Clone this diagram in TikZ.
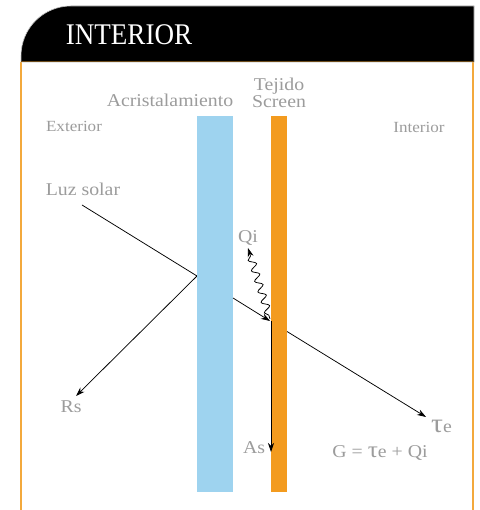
\documentclass[tikz,border=0pt]{standalone}
\usepackage{fontspec}
\setmainfont{Liberation Serif}[FakeStretch=1.1]
\usetikzlibrary{arrows.meta,decorations.pathmorphing}
\definecolor{glass}{HTML}{9ED3EF}
\definecolor{screen}{HTML}{F39B1F}
\definecolor{frameor}{HTML}{F3A93C}
\definecolor{lbl}{HTML}{9C9C9C}
\tikzset{
  lab/.style={text=lbl, font=\fontsize{18}{18}\selectfont, inner sep=0pt, anchor=base},
  small/.style={lab, font=\fontsize{15.5}{15.5}\selectfont},
  ray/.style={line width=0.75pt, black},
  rayarr/.style={ray, -{Stealth[length=9pt,width=6pt]}},
}
\begin{document}
\begin{tikzpicture}[x=1pt,y=1pt]
\useasboundingbox (0,0) rectangle (479,510);
\fill[white] (0,0) rectangle (479,510);
% frame
\draw[frameor, line width=1.5pt] (21,0) -- (21,448);
\draw[frameor, line width=1.5pt] (473,0) -- (473,448);
% header
\fill[black, draw=black!25, line width=0.6pt] (21,448) -- (21,454) arc[start angle=180, end angle=90, radius=50] -- (474,504) -- (474,448) -- cycle;
\draw[black!55!frameor, line width=1pt] (21,448) -- (474,448);
\node[text=white, inner sep=0pt, anchor=base] (title) at (129,465) {\fontsize{30}{30}\selectfont\scalebox{0.82}[1]{INTERIOR}};
% coordinates
\coordinate (luz) at (82,305);
\coordinate (hit1) at (197,234);
\coordinate (g1out) at (233,212);
\coordinate (hit2) at (270,189);
\coordinate (s2out) at (287,178.5);
\coordinate (teend) at (426,93);
\coordinate (rsend) at (76,114);
\coordinate (asstart) at (271,189);
\coordinate (asend) at (271,58);
\coordinate (qistart) at (270,191);
\coordinate (qiend) at (248,262);
% rays
\draw[ray] (luz) -- (hit1);
\draw[rayarr] (hit1) -- (rsend);
\draw[rayarr] (s2out) -- (teend);
% bars
\fill[glass] (197,18) rectangle (233,394);
\fill[screen] (271,18) rectangle (287,394);
\draw[rayarr] (g1out) -- (hit2);
\draw[rayarr] (asstart) -- (asend);
\draw[ray, -{Stealth[length=9pt,width=6pt]}, decorate, decoration={snake, amplitude=3.6pt, segment length=11pt, pre length=4pt, post length=8pt}] (qistart) -- (qiend);
% labels
\node[lab] (acr) at (170,403) {Acristalamiento};
\node[lab] (tej) at (279,419) {Tejido};
\node[lab] (scr) at (279,402) {Screen};
\node[small] (ext) at (74,378) {Exterior};
\node[small] (int) at (419,377) {Interior};
\node[lab] (luzl) at (83,314) {Luz solar};
\node[lab] (qi) at (248,267) {Qi};
\node[lab] (rs) at (71,97) {Rs};
\node[lab] (as) at (254,56) {As};
\node[lab, anchor=base west] (te) at (431,77) {{\fontsize{27}{27}\selectfont τ}e};
\node[lab] (g) at (380,52) {G = {\fontsize{23}{23}\selectfont τ}e + Qi};
\end{tikzpicture}
\end{document}
